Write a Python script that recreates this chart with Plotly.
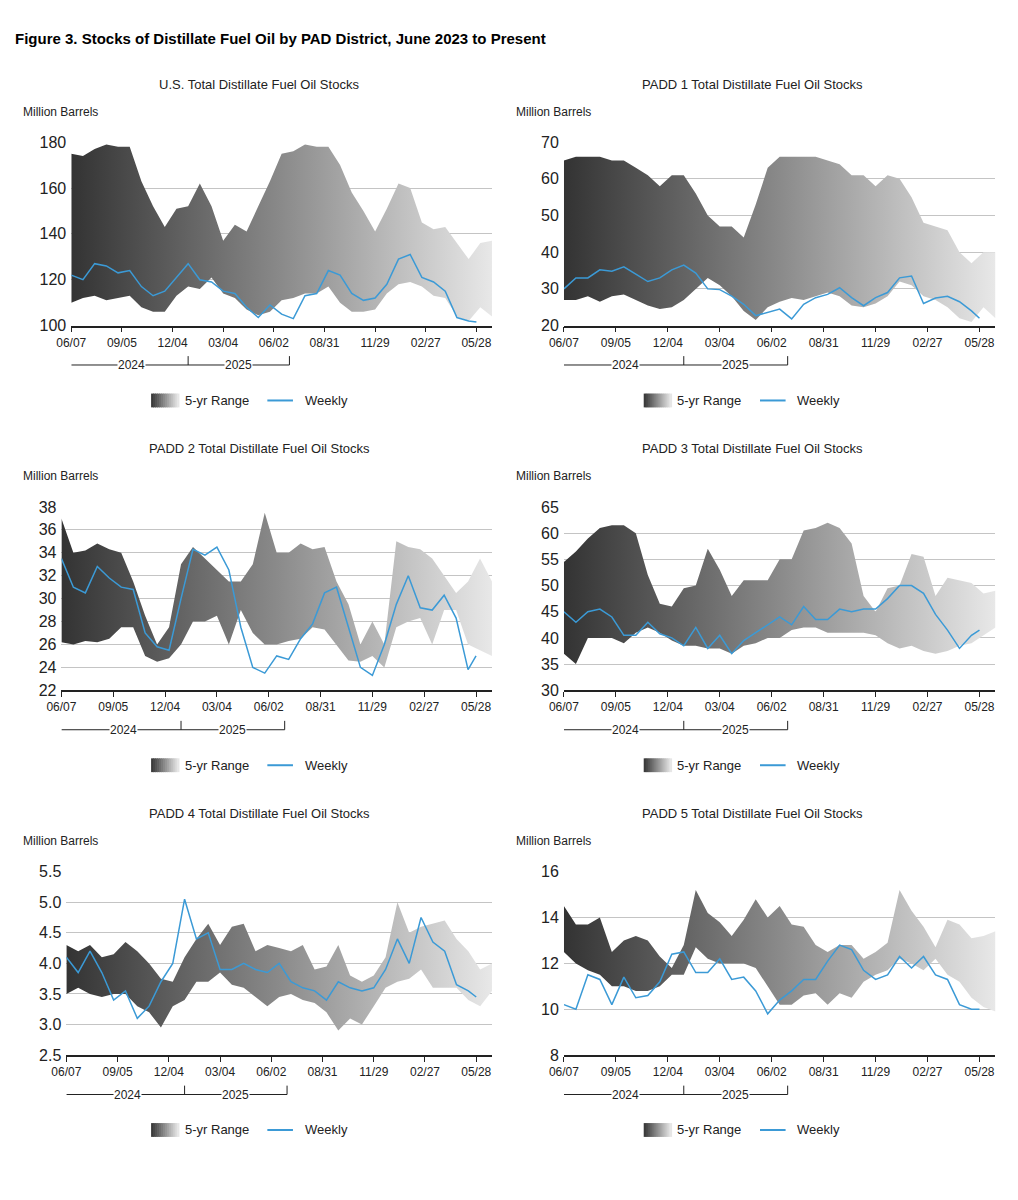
import plotly.graph_objects as go

# ---- data (sampled every 3 weeks, week index from 06/07) ----
weeks_range = list(range(0, 109, 3))
weeks_weekly = list(range(0, 103, 3)) + [104]
tick_weeks = [0, 13, 26, 39, 52, 65, 78, 91, 104]
tick_labels = ["06/07", "09/05", "12/04", "03/04", "06/02", "08/31", "11/29", "02/27", "05/28"]

us_hi = [175,174,177,179,178,178,163,152,143,151,152,162,152,137,144,141,152,163,175,176,179,178,178,170,158,150,141,151,162,160,145,142,143,136,129,136,137]
us_lo = [110,112,113,111,112,113,108,106,106,113,117,116,121,114,112,107,104.5,106,111,112,114,114,117,110,106,106,107,114,118,119,117,113,112,104,102,108,104]
us_wk = [122,120,127,126,123,124,117,113,115,121,127,120,119,115,114,108,103.5,109,105,103,113,114,124,122,114,111,112,118,129,131,121,119,115,103.5,102,101.5]

p1_hi = [65,66,66,66,65,65,63,61,58,61,61,56,50,47,47,44,53,63,66,66,66,66,65,64,61,61,58,61,60,55,48,47,46,40,37,40,40]
p1_lo = [27,27,28,26.5,28,28.5,27,25.5,24.5,25,27,30,33,31,28,24,21.5,25,26.5,27.5,27,28,29,28,25.5,25,26,28,32,31,28,27,25,22,21,25,22]
p1_wk = [30,33,33,35.2,34.8,36,34,32,33,35.2,36.5,34.3,30,29.8,28,25.8,22.7,23.6,24.5,21.8,25.8,27.6,28.5,30.3,27.6,25.4,27.6,29,33,33.5,26,27.5,28,26.5,24,22]

p2_hi = [37,34,34.2,34.8,34.3,34,31.5,28.5,26,27.5,33,34.5,33.5,32.5,31.5,31.5,33,37.5,34,34,34.8,34.3,34.5,31.5,29.5,26,28,26,35,34.5,34.3,33.5,32,30.5,31.5,33.5,31.5]
p2_lo = [26.2,26,26.3,26.2,26.5,27.5,27.5,25,24.5,24.8,26,28,28,28.5,26,29,27,26,26,26.3,26.5,27.5,27.3,26,24.6,24.5,25,24,27.5,28,28.3,26,29,29,26,25.5,25]
p2_wk = [33.5,31,30.5,32.8,31.8,31,30.8,27,25.8,25.5,30,34.3,33.8,34.5,32.5,27.5,24,23.5,25,24.7,26.5,27.8,30.5,31,27.5,24,23.3,26,29.5,32,29.2,29,30.3,28.3,23.8,25]

p3_hi = [54.5,56.5,59,61,61.5,61.5,60,52,46.5,46,49.5,50,57,53,48,51,51,51,55,55,60.5,61,62,61,58,48,45,49.5,50,56,55.5,48,51.5,51,50.5,48.5,49]
p3_lo = [37,35,40,40,40,39,41,42,41,39.5,38.5,38.5,38,38,37,38.5,39,40,40,41.5,42,42,41,41,41,41,40.5,39,38,38.5,37.5,37,37.5,38.5,39,40.5,42]
p3_wk = [45,43,45,45.5,44,40.5,40.5,43,40.8,40,38.5,42,38,40.5,37,39.5,41,42.5,44,42.5,46,43.5,43.5,45.5,45,45.5,45.5,47.5,50,50,48.5,44.5,41.5,38,40.5,41.5]

p4_hi = [4.3,4.2,4.3,4.1,4.15,4.35,4.2,4.0,3.75,3.7,4.1,4.4,4.65,4.3,4.6,4.65,4.2,4.3,4.25,4.2,4.3,3.9,3.95,4.3,3.8,3.7,3.8,4.1,5.0,4.5,4.6,4.65,4.7,4.4,4.2,3.9,4.0]
p4_lo = [3.5,3.6,3.5,3.45,3.5,3.5,3.3,3.2,2.95,3.3,3.4,3.7,3.7,3.85,3.65,3.6,3.45,3.3,3.45,3.5,3.4,3.35,3.2,2.9,3.1,3.0,3.3,3.6,3.7,3.75,3.9,3.6,3.6,3.6,3.4,3.3,3.55]
p4_wk = [4.1,3.85,4.2,3.85,3.4,3.55,3.1,3.3,3.7,4.0,5.05,4.4,4.5,3.9,3.9,4.0,3.9,3.85,4.0,3.7,3.6,3.55,3.4,3.7,3.6,3.55,3.6,3.9,4.4,4.0,4.75,4.35,4.2,3.65,3.55,3.45]

p5_hi = [14.5,13.7,13.7,14,12.5,13,13.2,13,12.3,11.8,12.8,15.2,14.2,13.8,13.2,13.9,14.8,14,14.5,13.7,13.6,12.8,12.5,12.8,12.8,12.2,12.5,12.9,15.2,14.3,13.6,12.7,13.9,13.7,13.1,13.2,13.4]
p5_lo = [12.5,12,11.7,11.5,11,11,10.8,10.8,11,11.5,11.5,12.7,12.2,12,12,12,11.8,11,10.2,10.2,10.6,10.7,10.2,10.7,10.5,11.2,11.5,11.7,12.2,12,11.7,12.2,11.5,11.2,10.5,10.1,9.9]
p5_wk = [10.2,10.0,11.5,11.3,10.2,11.4,10.5,10.6,11.2,12.4,12.5,11.6,11.6,12.2,11.3,11.4,10.8,9.8,10.4,10.8,11.3,11.3,12.1,12.8,12.6,11.7,11.3,11.5,12.3,11.8,12.3,11.5,11.3,10.2,10.0,10.0]

panels = [
    ("U.S. Total Distillate Fuel Oil Stocks", us_hi, us_lo, us_wk, [100, 180], 20, ""),
    ("PADD 1 Total Distillate Fuel Oil Stocks", p1_hi, p1_lo, p1_wk, [20, 70], 10, ""),
    ("PADD 2 Total Distillate Fuel Oil Stocks", p2_hi, p2_lo, p2_wk, [22, 38], 2, ""),
    ("PADD 3 Total Distillate Fuel Oil Stocks", p3_hi, p3_lo, p3_wk, [30, 65], 5, ""),
    ("PADD 4 Total Distillate Fuel Oil Stocks", p4_hi, p4_lo, p4_wk, [2.5, 5.5], 0.5, ".1f"),
    ("PADD 5 Total Distillate Fuel Oil Stocks", p5_hi, p5_lo, p5_wk, [8, 16], 2, ""),
]

W, H = 1018, 1200
DXP, DXA, DY = -16, -22, -14
def px(v): return v / W
def py(v): return 1 - (v + DY) / H

boxes = [
    (65, 492, 142, 328), (565, 1003, 142, 328),
    (55, 492, 512, 698), (565, 1003, 512, 698),
    (60, 492, 882, 1068), (565, 1003, 882, 1068),
]
col_off = [0, 500]

fig = go.Figure()
layout = dict(width=W, height=H, margin=dict(l=0, r=0, t=0, b=0),
              paper_bgcolor="white", plot_bgcolor="white", showlegend=False,
              font=dict(family="Liberation Sans, Arial", color="#222"))
annotations, shapes = [], []
blue = "#3b9ad6"
axis_text = "#222"

for i, (title, hi, lo, wk, yr, dt, fmt) in enumerate(panels):
    n = i + 1
    xa = "x" if n == 1 else f"x{n}"
    ya = "y" if n == 1 else f"y{n}"
    x0, x1, yt, yb = boxes[i]
    off = col_off[i % 2] + DXA
    fig.add_trace(go.Scatter(x=weeks_range, y=lo, mode="lines", line=dict(width=0),
                             xaxis=xa, yaxis=ya, hoverinfo="skip"))
    fig.add_trace(go.Scatter(x=weeks_range, y=hi, mode="lines", line=dict(width=0),
                             fill="tonexty",
                             fillgradient=dict(type="horizontal",
                                               colorscale=[[0, "#333333"], [0.5, "#8a8a8a"], [1, "#e8e8e8"]]),
                             xaxis=xa, yaxis=ya, hoverinfo="skip"))
    fig.add_trace(go.Scatter(x=weeks_weekly, y=wk, mode="lines", line=dict(color=blue, width=1.5),
                             xaxis=xa, yaxis=ya))
    key = "" if n == 1 else str(n)
    layout["xaxis" + key] = dict(domain=[px(x0 + DXP), px(x1 + DXP)], anchor=ya, range=[0, 108],
                                 tickvals=tick_weeks, ticktext=tick_labels, showgrid=False,
                                 showline=True, linecolor="#222", linewidth=1.5,
                                 ticks="outside", ticklen=5, tickcolor="#222",
                                 tickfont=dict(size=12, color=axis_text), zeroline=False)
    ticks = []
    v = yr[0]
    while v <= yr[1] + 1e-9:
        ticks.append(round(v, 3)); v += dt
    layout["yaxis" + key] = dict(domain=[py(yb), py(yt)], anchor=xa, range=yr,
                                 tickvals=ticks, tickformat=fmt, showgrid=True,
                                 gridcolor="#c4c4c4", gridwidth=1, zeroline=False,
                                 showline=False, ticks="", ticklabelstandoff=4,
                                 tickfont=dict(size=16, color=axis_text))
    annotations.append(dict(text=title, x=px(off + 262), y=py(yt - 59), xref="paper", yref="paper",
                            showarrow=False, font=dict(size=13, color="#222"), xanchor="center", yanchor="middle"))
    annotations.append(dict(text="Million Barrels", x=px(off + 20), y=py(yt - 31), xref="paper", yref="paper",
                            showarrow=False, font=dict(size=12, color="#222"), xanchor="left", yanchor="middle"))
    ly = py(yb + 40)
    shapes.append(dict(type="line", xref=xa, yref="paper", x0=0, x1=56, y0=ly, y1=ly, line=dict(color="#222", width=1)))
    shapes.append(dict(type="line", xref=xa, yref="paper", x0=30, x1=30, y0=ly, y1=py(yb + 31), line=dict(color="#222", width=1)))
    shapes.append(dict(type="line", xref=xa, yref="paper", x0=56, x1=56, y0=ly, y1=py(yb + 31), line=dict(color="#222", width=1)))
    for lab, xw in (("2024", 15.5), ("2025", 43)):
        annotations.append(dict(text=lab, x=xw, y=ly, xref=xa, yref="paper", showarrow=False,
                                bgcolor="white", borderpad=0, font=dict(size=12, color="#222"),
                                xanchor="center", yanchor="middle"))
    legy = yb + 76
    gx0 = off + 152
    nstrip = 14
    for s in range(nstrip):
        c = int(0x3a + (0xe6 - 0x3a) * s / (nstrip - 1))
        col = f"rgb({c},{c},{c})"
        shapes.append(dict(type="rect", xref="paper", yref="paper",
                           x0=px(gx0 + 28 * s / nstrip), x1=px(gx0 + 28 * (s + 1) / nstrip + 0.8),
                           y0=py(legy + 7), y1=py(legy - 7), fillcolor=col, line=dict(width=0)))
    annotations.append(dict(text="5-yr Range", x=px(off + 184), y=py(legy), xref="paper", yref="paper",
                            showarrow=False, font=dict(size=13, color="#222"), xanchor="left", yanchor="middle"))
    shapes.append(dict(type="line", xref="paper", yref="paper", x0=px(off + 270), x1=px(off + 296),
                       y0=py(legy), y1=py(legy), line=dict(color=blue, width=2)))
    annotations.append(dict(text="Weekly", x=px(off + 306), y=py(legy), xref="paper", yref="paper",
                            showarrow=False, font=dict(size=13, color="#222"), xanchor="left", yanchor="middle"))

annotations.append(dict(text="<b>Figure 3. Stocks of Distillate Fuel Oil by PAD District, June 2023 to Present</b>",
                        x=px(12 + DXA), y=py(37), xref="paper", yref="paper", showarrow=False,
                        font=dict(size=15, color="#000"), xanchor="left", yanchor="middle"))
layout["annotations"] = annotations
layout["shapes"] = shapes
fig.update_layout(**layout)
fig.write_html("out.html")
